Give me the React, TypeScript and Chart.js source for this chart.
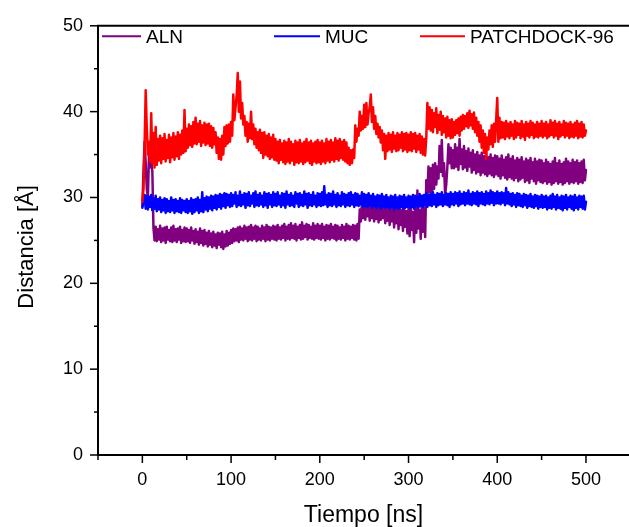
import React, { useEffect, useRef } from "react";
import { Chart, registerables } from "chart.js";

Chart.register(...registerables);

// Sampling step of the trajectories (ns)
const TIME_STEP_NS = 1.25;

// ALN distance (Å), t = 0 … 500 ns
const ALN = [
  29.0, 33.0, 36.5, 34.0, 31.0, 30.0, 35.2, 33.5, 34.5, 33.0,
  26.5, 25.0, 26.6, 24.9, 26.3, 25.1, 26.7, 24.8, 26.4, 25.0,
  26.5, 24.7, 26.6, 25.1, 26.2, 24.9, 26.5, 24.8, 26.7, 25.0,
  26.3, 24.8, 26.4, 25.1, 26.6, 24.7, 26.2, 24.9, 26.5, 24.8,
  26.4, 24.9, 26.2, 24.7, 26.5, 25.0, 26.1, 24.6, 26.3, 24.8,
  26.0, 24.5, 26.4, 24.7, 26.1, 24.4, 26.2, 24.6, 25.9, 24.3,
  26.1, 24.5, 25.8, 24.2, 26.0, 24.4, 25.7, 24.1, 25.9, 24.5,
  25.8, 24.2, 26.0, 24.0, 25.7, 24.3, 26.1, 24.4, 25.9, 24.6,
  26.2, 24.7, 26.4, 24.9, 26.3, 25.0, 26.5, 24.8, 26.6, 25.1,
  26.4, 25.0, 26.7, 25.2, 26.5, 24.9, 26.6, 25.1, 26.8, 25.0,
  26.5, 25.2, 26.7, 24.9, 26.6, 25.1, 26.4, 25.0, 26.7, 25.2,
  26.5, 24.9, 26.8, 25.1, 26.6, 25.0, 26.5, 25.2, 26.7, 25.1,
  26.6, 25.0, 26.8, 25.2, 26.5, 25.1, 26.7, 25.3, 26.9, 25.0,
  26.6, 25.2, 26.8, 25.1, 27.0, 25.3, 26.7, 25.2, 26.9, 25.0,
  26.6, 25.3, 26.8, 25.1, 27.1, 25.2, 26.7, 25.4, 26.9, 25.1,
  26.8, 25.3, 26.6, 25.2, 27.0, 25.1, 26.7, 25.3, 26.9, 25.2,
  26.7, 25.1, 26.9, 25.3, 26.6, 25.0, 26.8, 25.2, 26.7, 25.1,
  26.9, 25.3, 26.6, 25.2, 26.8, 25.0, 26.7, 25.2, 26.5, 25.1,
  26.8, 25.3, 26.6, 25.0, 26.9, 25.2, 26.7, 25.1, 26.6, 25.3,
  26.8, 25.1, 26.7, 25.0, 26.9, 25.2, 28.6, 27.2, 29.5, 27.6,
  29.2, 27.4, 29.4, 27.8, 29.1, 27.3, 29.3, 27.6, 29.0, 27.2,
  29.2, 27.5, 28.9, 27.1, 29.3, 27.4, 29.1, 27.6, 28.8, 27.0,
  29.2, 27.3, 28.9, 26.8, 29.0, 27.2, 28.7, 26.5, 29.1, 27.0,
  28.6, 26.3, 28.9, 26.8, 28.5, 26.1, 28.8, 26.6, 28.4, 25.8,
  28.7, 25.5, 29.6, 26.2, 28.3, 24.8, 29.0, 25.9, 30.8, 26.4,
  28.5, 25.2, 29.2, 26.0, 28.8, 25.4, 32.0, 30.5, 33.6, 30.6,
  33.4, 30.4, 33.8, 31.0, 34.0, 31.5, 33.6, 32.2, 36.0, 33.0,
  36.7, 32.5, 34.0, 30.3, 31.5, 33.6, 36.2, 34.0, 35.8, 33.4,
  35.5, 33.4, 36.2, 33.6, 35.8, 33.2, 36.8, 33.9, 35.6, 33.3,
  36.0, 33.5, 35.4, 33.1, 35.7, 33.6, 35.2, 32.9, 35.5, 33.2,
  35.0, 32.8, 35.3, 33.0, 34.9, 32.6, 35.2, 32.9, 34.8, 32.7,
  35.1, 32.5, 34.7, 32.8, 35.0, 32.6, 34.6, 32.4, 34.9, 32.7,
  34.8, 32.5, 34.5, 32.2, 34.9, 32.6, 34.4, 32.3, 34.7, 32.1,
  35.0, 32.4, 34.5, 32.2, 34.8, 32.0, 34.3, 32.3, 34.6, 31.9,
  34.4, 32.1, 34.7, 32.3, 34.2, 31.8, 34.5, 32.0, 34.3, 31.7,
  34.6, 32.2, 34.1, 31.9, 34.5, 31.6, 34.2, 32.0, 34.4, 31.8,
  34.3, 31.7, 34.0, 31.9, 34.4, 31.6, 34.1, 31.8, 33.9, 31.5,
  34.2, 31.7, 34.6, 31.9, 34.0, 31.6, 34.3, 31.8, 33.9, 31.5,
  34.1, 31.7, 34.5, 31.9, 34.2, 31.6, 34.0, 31.8, 34.4, 31.7,
  34.1, 31.9, 34.3, 31.6, 34.0, 31.8, 34.2, 31.7, 34.4, 32.0,
  33.2,
];

// MUC distance (Å)
const MUC = [
  28.8, 29.6, 30.3, 28.7, 30.2, 28.6, 30.1, 28.9, 30.3, 28.5,
  29.9, 28.7, 30.2, 28.4, 29.8, 28.6, 30.0, 28.3, 29.7, 28.5,
  29.9, 28.2, 29.8, 28.4, 29.6, 28.3, 30.0, 28.5, 29.7, 28.2,
  29.8, 28.4, 29.6, 28.3, 29.9, 28.2, 29.7, 28.5, 29.6, 28.3,
  29.8, 28.2, 29.6, 28.4, 29.9, 28.1, 29.7, 28.3, 29.8, 28.5,
  30.0, 28.2, 29.7, 28.4, 30.6, 28.3, 29.9, 28.6, 30.1, 28.4,
  30.0, 28.7, 30.2, 28.5, 30.1, 28.8, 30.3, 28.6, 30.2, 28.9,
  30.4, 28.7, 30.3, 29.0, 30.5, 28.8, 30.4, 29.1, 30.3, 28.9,
  30.5, 29.0, 30.3, 29.3, 30.6, 28.9, 30.2, 29.1, 30.7, 29.0,
  30.3, 29.2, 30.5, 28.8, 30.4, 29.1, 30.6, 29.0, 30.2, 29.3,
  30.5, 28.9, 30.7, 29.1, 30.3, 29.0, 30.5, 29.2, 30.2, 28.9,
  30.6, 29.1, 30.4, 28.8, 30.5, 29.2, 30.3, 28.9, 30.6, 29.1,
  30.4, 29.0, 30.6, 29.2, 30.2, 28.9, 30.5, 29.1, 30.4, 28.8,
  30.7, 29.2, 30.3, 29.0, 30.5, 29.1, 30.2, 28.9, 30.6, 29.3,
  30.4, 28.9, 30.5, 29.1, 30.3, 29.0, 30.7, 29.2, 30.4, 28.8,
  30.5, 29.1, 30.3, 29.0, 30.6, 29.2, 30.2, 28.9, 30.5, 29.1,
  30.4, 29.0, 30.6, 29.1, 31.3, 29.2, 30.3, 28.9, 30.5, 29.1,
  30.4, 29.0, 30.7, 29.2, 30.3, 28.9, 30.5, 29.1, 30.2, 29.0,
  30.6, 29.2, 30.4, 28.9, 30.3, 29.1, 30.5, 29.0, 30.6, 29.2,
  30.3, 28.9, 30.5, 29.1, 30.4, 29.0, 30.2, 29.2, 30.6, 28.9,
  30.4, 29.0, 30.3, 28.9, 30.5, 29.1, 30.2, 28.8, 30.4, 29.0,
  30.1, 28.8, 30.3, 29.0, 30.2, 28.7, 30.4, 28.9, 30.1, 28.8,
  30.3, 28.9, 30.0, 28.7, 30.2, 28.9, 30.1, 28.6, 30.3, 28.8,
  30.0, 28.7, 30.2, 28.9, 30.1, 28.7, 30.3, 28.8, 30.0, 28.9,
  30.2, 28.8, 30.1, 28.9, 30.3, 28.7, 30.2, 29.0, 30.1, 28.8,
  30.4, 29.0, 30.2, 28.9, 30.3, 29.1, 30.5, 28.9, 30.3, 29.1,
  30.4, 29.0, 30.6, 29.2, 30.3, 28.9, 30.5, 29.1, 30.4, 29.2,
  30.6, 29.0, 30.3, 29.2, 30.5, 29.1, 30.4, 28.9, 30.6, 29.2,
  30.4, 29.1, 30.6, 29.3, 30.5, 29.0, 30.7, 29.2, 30.4, 29.3,
  30.6, 29.1, 30.5, 29.3, 30.8, 29.2, 30.4, 29.1, 30.6, 29.3,
  30.5, 29.2, 30.7, 29.0, 30.5, 29.3, 30.6, 29.2, 30.4, 29.1,
  30.7, 29.3, 30.5, 29.2, 30.8, 29.4, 30.6, 29.1, 30.5, 29.3,
  30.7, 29.3, 30.5, 29.2, 30.6, 29.4, 30.5, 29.1, 31.1, 29.3,
  30.6, 29.2, 30.4, 29.0, 30.5, 29.2, 30.3, 28.9, 30.5, 29.1,
  30.4, 29.0, 30.2, 28.9, 30.4, 29.1, 30.3, 28.8, 30.2, 29.0,
  30.4, 28.9, 30.1, 28.8, 30.3, 29.0, 30.2, 28.7, 30.1, 28.9,
  30.3, 28.8, 30.1, 28.9, 30.2, 28.6, 30.0, 28.8, 30.2, 28.7,
  30.4, 28.9, 30.1, 28.6, 30.3, 28.8, 30.0, 28.7, 30.2, 28.5,
  30.1, 28.8, 30.3, 28.6, 30.0, 28.9, 30.2, 28.7, 30.1, 28.5,
  30.3, 28.8, 30.0, 28.6, 30.2, 28.9, 30.1, 28.7, 30.2, 28.6,
  29.5,
];

// PATCHDOCK-96 distance (Å)
const PATCHDOCK_96 = [
  29.5, 31.0, 36.0, 42.5, 38.0, 35.0, 36.5, 34.2, 39.8, 34.0,
  37.5, 33.5, 38.2, 33.8, 36.8, 34.3, 37.2, 34.0, 36.9, 34.5,
  37.4, 34.2, 36.7, 34.6, 37.3, 34.1, 37.0, 34.7, 37.5, 34.4,
  37.1, 34.8, 37.6, 34.5, 37.3, 35.0, 37.8, 35.2, 40.2, 35.4,
  38.0, 35.8, 38.5, 36.1, 38.3, 35.9, 38.8, 36.3, 39.3, 36.2,
  38.6, 36.5, 38.9, 36.0, 38.4, 36.4, 38.7, 36.1, 38.5, 36.3,
  38.6, 36.0, 38.3, 35.8, 38.1, 36.2, 37.6, 35.2, 37.0, 34.5,
  36.8, 34.4, 37.2, 35.0, 38.2, 36.0, 38.4, 36.3, 38.5, 36.5,
  38.8, 37.2, 42.0, 39.0, 40.5, 41.8, 44.5, 40.0, 43.5, 39.2,
  41.0, 38.5, 39.5, 37.2, 38.8, 36.5, 38.6, 36.9, 40.0, 36.8,
  38.5, 36.2, 38.0, 35.8, 37.6, 35.5, 37.9, 35.2, 37.5, 34.6,
  37.6, 35.0, 37.2, 34.8, 37.4, 34.5, 37.0, 34.7, 37.3, 34.4,
  36.8, 34.3, 36.5, 34.0, 36.7, 34.4, 36.3, 34.1, 36.6, 33.9,
  36.4, 34.2, 36.8, 34.0, 36.5, 34.3, 36.2, 33.8, 36.6, 34.1,
  36.4, 34.0, 36.7, 34.2, 36.3, 33.9, 36.5, 34.1, 36.8, 34.3,
  36.4, 34.0, 36.6, 33.8, 36.3, 34.2, 36.5, 34.0, 36.7, 34.1,
  36.4, 33.9, 36.6, 34.2, 36.3, 34.0, 36.8, 34.3, 36.5, 34.1,
  36.7, 34.4, 36.4, 34.2, 36.9, 34.5, 36.6, 34.3, 36.8, 34.6,
  36.5, 34.4, 36.7, 34.2, 36.4, 34.0, 35.8, 33.8, 35.5, 34.0,
  35.6, 34.6, 38.4, 36.5, 38.0, 37.2, 40.0, 37.8, 39.5, 38.0,
  40.8, 38.2, 41.0, 38.5, 39.8, 40.5, 42.0, 38.8, 40.5, 38.0,
  39.5, 37.4, 38.6, 37.0, 38.2, 36.4, 37.8, 35.5, 37.4, 34.5,
  37.2, 35.4, 37.5, 35.6, 37.3, 35.3, 37.6, 35.7, 37.2, 35.4,
  37.5, 35.5, 37.3, 35.8, 37.6, 35.4, 37.4, 35.6, 37.5, 35.3,
  37.3, 35.5, 37.6, 35.4, 37.4, 35.7, 37.5, 35.3, 37.2, 35.6,
  37.4, 35.2, 37.1, 35.0, 36.8, 34.9, 37.0, 41.0, 38.0, 40.5,
  37.8, 40.2, 37.6, 39.8, 38.2, 40.4, 37.5, 39.6, 37.9, 40.0,
  37.3, 39.5, 37.6, 39.2, 37.0, 39.4, 37.2, 39.0, 36.9, 39.1,
  37.0, 38.8, 37.3, 39.0, 37.5, 39.2, 37.2, 39.4, 37.8, 39.6,
  38.0, 39.5, 38.3, 39.8, 38.1, 40.1, 38.4, 39.7, 38.0, 39.9,
  37.6, 39.3, 37.2, 38.8, 36.5, 38.4, 35.8, 37.8, 35.2, 37.4,
  34.5, 37.0, 35.6, 37.8, 36.2, 38.4, 35.9, 38.6, 36.5, 39.0,
  41.6, 36.5, 39.3, 36.9, 38.8, 37.0, 38.7, 36.8, 38.9, 37.1,
  38.6, 36.9, 38.8, 37.2, 38.5, 36.8, 38.9, 37.0, 38.7, 37.3,
  38.6, 36.9, 38.9, 37.1, 38.5, 36.7, 38.8, 37.2, 38.6, 37.0,
  38.9, 37.3, 38.7, 36.9, 38.5, 37.1, 38.8, 37.0, 38.6, 37.2,
  38.9, 37.0, 38.6, 37.2, 38.8, 36.9, 38.5, 37.1, 39.0, 37.3,
  38.7, 37.0, 38.9, 37.2, 38.6, 36.8, 38.8, 37.1, 38.5, 37.3,
  38.9, 37.0, 38.7, 37.2, 38.6, 36.9, 38.8, 37.1, 38.5, 37.0,
  38.7, 37.2, 38.9, 36.9, 38.6, 37.1, 38.8, 37.0, 38.5, 37.2,
  37.8,
];

const TIME_NS = ALN.map((_, i) => i * TIME_STEP_NS);

const SERIES_NAMES = ["ALN", "MUC", "PATCHDOCK-96"];
const SERIES_VALUES = [ALN, MUC, PATCHDOCK_96];
const SERIES_COLORS = ["#800080", "#0000FF", "#FF0000"];

const X_TICK_LABELS = [0, 100, 200, 300, 400, 500];
const Y_TICK_LABELS = [0, 10, 20, 30, 40, 50];

const X_TITLE = "Tiempo [ns]";
const Y_TITLE = "Distancia [Å]";

const FONT = "'Liberation Sans', Arial, Helvetica, sans-serif";

// legend layout (pixels from chart-area left): line start, line end
const LEGEND_LAYOUT = [
  [4, 43],
  [176, 222],
  [322, 367],
];

const decorPlugin = {
  id: "decor",
  afterDraw(chart: any) {
    const { ctx, chartArea: a, scales } = chart;
    const x = scales.x;
    const y = scales.y;
    ctx.save();
    ctx.strokeStyle = "#000";
    ctx.fillStyle = "#000";

    // top frame line
    ctx.lineWidth = 2;
    ctx.beginPath();
    ctx.moveTo(a.left - 1, a.top);
    ctx.lineTo(a.right + 2, a.top);
    ctx.stroke();

    // ticks (major with labels, minor halfway)
    ctx.lineWidth = 1.5;
    for (let v = -50; v <= 600; v += 50) {
      const px = x.getPixelForValue(v);
      if (px > a.right + 1) continue;
      const len = v % 100 === 0 ? 8 : 5;
      ctx.beginPath();
      ctx.moveTo(px, a.bottom);
      ctx.lineTo(px, a.bottom + len);
      ctx.stroke();
    }
    for (let v = 0; v <= 50; v += 5) {
      const py = y.getPixelForValue(v);
      const len = v % 10 === 0 ? 8 : 4;
      ctx.beginPath();
      ctx.moveTo(a.left - len, py);
      ctx.lineTo(a.left, py);
      ctx.stroke();
    }

    // axis titles
    ctx.textAlign = "center";
    ctx.textBaseline = "alphabetic";
    ctx.font = `23px ${FONT}`;
    ctx.fillText(X_TITLE, (a.left + a.right) / 2, a.bottom + 67);
    ctx.font = `22px ${FONT}`;
    ctx.save();
    ctx.translate(a.left - 65, (a.top + a.bottom) / 2 + 6.5);
    ctx.rotate(-Math.PI / 2);
    ctx.fillText(Y_TITLE, 0, 0);
    ctx.restore();

    // legend
    ctx.font = `19px ${FONT}`;
    ctx.textAlign = "left";
    const lineY = a.top + 10.5;
    SERIES_NAMES.forEach((name, i) => {
      const [s, e] = LEGEND_LAYOUT[i];
      ctx.strokeStyle = SERIES_COLORS[i];
      ctx.lineWidth = 2;
      ctx.beginPath();
      ctx.moveTo(a.left + s, lineY);
      ctx.lineTo(a.left + e, lineY);
      ctx.stroke();
      ctx.fillStyle = "#000";
      ctx.fillText(name, a.left + e + 5, a.top + 17);
    });
    ctx.restore();
  },
};

export default function App() {
  const canvasRef = useRef<HTMLCanvasElement | null>(null);

  useEffect(() => {
    const canvas = canvasRef.current;
    if (!canvas) return;
    const chart = new Chart(canvas, {
      type: "line",
      data: {
        datasets: SERIES_NAMES.map((name, i) => ({
          label: name,
          data: SERIES_VALUES[i].map((v, k) => ({ x: TIME_NS[k], y: v })),
          borderColor: SERIES_COLORS[i],
          backgroundColor: SERIES_COLORS[i],
          borderWidth: 2.5,
          borderJoinStyle: "round" as const,
          borderCapStyle: "round" as const,
          pointRadius: 0,
          tension: 0,
          fill: false,
          order: 3 - i,
        })),
      },
      options: {
        animation: false,
        responsive: false,
        maintainAspectRatio: false,
        devicePixelRatio: 1,
        layout: { padding: { top: 24, left: 0, right: 0, bottom: 0 } },
        plugins: {
          legend: { display: false },
          tooltip: { enabled: false },
        },
        scales: {
          x: {
            type: "linear",
            min: -50,
            max: 548.5,
            afterFit: (s: any) => {
              s.height = 72;
            },
            afterBuildTicks: (s: any) => {
              s.ticks = X_TICK_LABELS.map((v) => ({ value: v }));
            },
            grid: { display: false, drawTicks: false },
            border: { display: true, color: "#000", width: 2 },
            ticks: {
              autoSkip: false,
              maxRotation: 0,
              minRotation: 0,
              padding: 14,
              color: "#000",
              font: { family: FONT, size: 18 },
              callback: (v: any) => String(v),
            },
          },
          y: {
            type: "linear",
            min: 0,
            max: 50,
            afterFit: (s: any) => {
              s.width = 98;
            },
            afterBuildTicks: (s: any) => {
              s.ticks = Y_TICK_LABELS.map((v) => ({ value: v }));
            },
            grid: { display: false, drawTicks: false },
            border: { display: true, color: "#000", width: 2 },
            ticks: {
              autoSkip: false,
              padding: 15,
              color: "#000",
              font: { family: FONT, size: 18 },
              callback: (v: any) => String(v),
            },
          },
        },
      },
      plugins: [decorPlugin],
    });
    return () => chart.destroy();
  }, []);

  return (
    <div style={{ position: "fixed", left: 0, top: 0, width: 629, height: 527, background: "#fff" }}>
      <canvas ref={canvasRef} width={629} height={527} style={{ display: "block" }} />
    </div>
  );
}
